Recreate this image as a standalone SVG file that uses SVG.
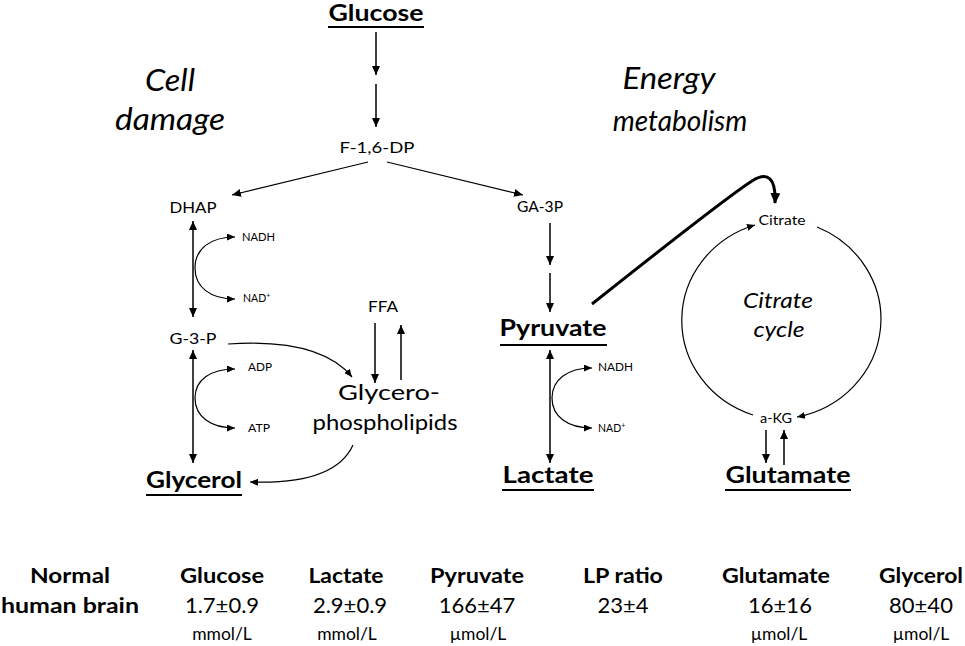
<svg xmlns="http://www.w3.org/2000/svg" width="965" height="646" viewBox="0 0 965 646">
<defs>
<style>
text{font-family:Lato,"Open Sans","Liberation Sans",sans-serif;fill:#000}
.b{font-weight:bold}
.i{font-style:italic}
.c{text-anchor:middle}
.ln{fill:none;stroke:#000;stroke-width:1.5}
.thin{fill:none;stroke:#000;stroke-width:1.2}
.thick{fill:none;stroke:#000;stroke-width:3}
.ul{stroke:#000;stroke-width:2}
.big{font-size:22px}
.mid{font-size:16px}
.sm{font-size:10.5px}
.hd{font-size:21px;font-weight:bold}
.val{font-size:22px}
.unit{font-size:17.5px}
</style>
<marker id="a" markerUnits="userSpaceOnUse" markerWidth="10" markerHeight="8" refX="9" refY="4" orient="auto-start-reverse"><path d="M0,0 L9,4 L0,8 z"/></marker>
<marker id="s" markerUnits="userSpaceOnUse" markerWidth="9" markerHeight="7" refX="8" refY="3.5" orient="auto-start-reverse"><path d="M0,0 L8,3.5 L0,7 z"/></marker>
<marker id="t" markerUnits="userSpaceOnUse" markerWidth="12" markerHeight="10" refX="10" refY="5" orient="auto"><path d="M0,0 L11,5 L0,10 z"/></marker>
</defs>
<rect width="965" height="646" fill="#fff"/>

<g id="connectors">
<path class="ln" d="M376,32 L376,75" marker-end="url(#a)"/>
<path class="ln" d="M376,84 L376,127" marker-end="url(#a)"/>
<path class="thin" d="M368,162 L232,195" marker-end="url(#a)"/>
<path class="thin" d="M387,162 L523,195" marker-end="url(#a)"/>
<path class="ln" d="M193,221 L193,317" marker-start="url(#a)" marker-end="url(#a)"/>
<path class="thin" d="M195,268 C195,249 210,237 235,237" marker-end="url(#s)"/>
<path class="thin" d="M195,268 C195,287 210,299 235,299" marker-end="url(#s)"/>
<path class="ln" d="M193,350 L193,463" marker-start="url(#a)" marker-end="url(#a)"/>
<path class="thin" d="M195,398 C195,380 210,369 235,369" marker-end="url(#s)"/>
<path class="thin" d="M195,398 C195,416 210,428 235,428" marker-end="url(#s)"/>
<path class="thin" d="M228,344 Q320,338 352,377" marker-end="url(#s)"/>
<path class="ln" d="M375,323 L375,383" marker-end="url(#a)"/>
<path class="ln" d="M401,380 L401,325" marker-end="url(#a)"/>
<path class="thin" d="M353,445 Q335,485 250,482" marker-end="url(#s)"/>
<path class="ln" d="M550,223 L550,265" marker-end="url(#a)"/>
<path class="ln" d="M550,273 L550,312" marker-end="url(#a)"/>
<path class="ln" d="M550,350 L550,463" marker-start="url(#a)" marker-end="url(#a)"/>
<path class="thin" d="M552,398 C552,380 567,368 592,368" marker-end="url(#s)"/>
<path class="thin" d="M552,398 C552,416 567,428 592,428" marker-end="url(#s)"/>
<path class="thick" d="M592,304 C660,250 730,195 752,181 C768,171 776,178 775,203" marker-end="url(#t)"/>
<path class="thin" d="M817,227 A105,100 0 0,1 797,417" marker-end="url(#s)"/>
<path class="thin" d="M753,415 A105,100 0 0,1 755,225" marker-end="url(#s)"/>
<path class="ln" d="M766,430 L766,463" marker-end="url(#a)"/>
<path class="ln" d="M784,465 L784,430" marker-end="url(#a)"/>
</g>

<g id="label-cell-damage">
<text class="i c" style="font-size:31px" x="170" y="91" textLength="50" lengthAdjust="spacingAndGlyphs">Cell</text>
<text class="i c" style="font-size:31px" x="170" y="130" textLength="110" lengthAdjust="spacingAndGlyphs">damage</text>
</g>
<g id="label-energy">
<text class="i c" style="font-size:30px" x="669" y="89" textLength="93" lengthAdjust="spacingAndGlyphs">Energy</text>
<text class="i c" style="font-size:28px" x="680" y="131">metabolism</text>
</g>

<g id="glucose">
<text class="b c big" x="376" y="21" textLength="95" lengthAdjust="spacingAndGlyphs">Glucose</text>
<line class="ul" x1="328" y1="27" x2="424" y2="27"/>
</g>
<g id="f16dp"><text class="c" style="font-size:15px" x="377" y="153" textLength="75" lengthAdjust="spacingAndGlyphs">F-1,6-DP</text></g>
<g id="dhap"><text class="c mid" x="193" y="213" textLength="47" lengthAdjust="spacingAndGlyphs">DHAP</text></g>
<g id="ga3p"><text class="c mid" x="540" y="212" textLength="46" lengthAdjust="spacingAndGlyphs">GA-3P</text></g>
<g id="g3p"><text class="c mid" x="193" y="344" textLength="47" lengthAdjust="spacingAndGlyphs">G-3-P</text></g>
<g id="nadh1"><text class="sm" x="242" y="241" textLength="33" lengthAdjust="spacingAndGlyphs">NADH</text></g>
<g id="nad1"><text class="sm" x="243" y="302">NAD<tspan font-size="7" dy="-4">+</tspan></text></g>
<g id="adp"><text class="sm" x="248" y="371" textLength="24" lengthAdjust="spacingAndGlyphs">ADP</text></g>
<g id="atp"><text class="sm" x="248" y="432" textLength="22" lengthAdjust="spacingAndGlyphs">ATP</text></g>
<g id="ffa"><text class="c mid" x="383" y="312" textLength="30" lengthAdjust="spacingAndGlyphs">FFA</text></g>
<g id="glycerophospholipids">
<text class="c" style="font-size:22px" x="389" y="400" textLength="102" lengthAdjust="spacingAndGlyphs">Glycero-</text>
<text class="c" style="font-size:22px" x="385" y="430" textLength="145" lengthAdjust="spacingAndGlyphs">phospholipids</text>
</g>
<g id="glycerol">
<text class="b c big" x="194" y="488" textLength="96" lengthAdjust="spacingAndGlyphs">Glycerol</text>
<line class="ul" x1="146" y1="495" x2="242" y2="495"/>
</g>
<g id="pyruvate">
<text class="b c big" x="553" y="336" textLength="107" lengthAdjust="spacingAndGlyphs">Pyruvate</text>
<line class="ul" x1="500" y1="345" x2="607" y2="345"/>
</g>
<g id="nadh2"><text class="sm" x="598" y="371" textLength="35" lengthAdjust="spacingAndGlyphs">NADH</text></g>
<g id="nad2"><text class="sm" x="598" y="432">NAD<tspan font-size="7" dy="-4">+</tspan></text></g>
<g id="lactate">
<text class="b c big" x="548" y="483" textLength="91" lengthAdjust="spacingAndGlyphs">Lactate</text>
<line class="ul" x1="502" y1="490" x2="594" y2="490"/>
</g>
<g id="citrate"><text class="c" style="font-size:13px" x="782" y="225" textLength="47" lengthAdjust="spacingAndGlyphs">Citrate</text></g>
<g id="citrate-cycle">
<text class="i c" style="font-size:22px" x="778" y="308" textLength="70" lengthAdjust="spacingAndGlyphs">Citrate</text>
<text class="i c" style="font-size:22px" x="779" y="337" textLength="51" lengthAdjust="spacingAndGlyphs">cycle</text>
</g>
<g id="akg"><text class="c" style="font-size:14px" x="776" y="423" textLength="32" lengthAdjust="spacingAndGlyphs">a-KG</text></g>
<g id="glutamate">
<text class="b c big" x="788" y="483" textLength="125" lengthAdjust="spacingAndGlyphs">Glutamate</text>
<line class="ul" x1="725" y1="490" x2="851" y2="490"/>
</g>

<g id="table">
<text class="hd c" x="70" y="583" textLength="80" lengthAdjust="spacingAndGlyphs">Normal</text>
<text class="hd c" x="70" y="613" textLength="138" lengthAdjust="spacingAndGlyphs">human brain</text>
<text class="hd c" x="222" y="583" textLength="84" lengthAdjust="spacingAndGlyphs">Glucose</text>
<text class="val c" x="222" y="613">1.7±0.9</text>
<text class="unit c" x="222" y="640">mmol/L</text>
<text class="hd c" x="346" y="583" textLength="75" lengthAdjust="spacingAndGlyphs">Lactate</text>
<text class="val c" x="350" y="613">2.9±0.9</text>
<text class="unit c" x="347" y="640">mmol/L</text>
<text class="hd c" x="477" y="583" textLength="94" lengthAdjust="spacingAndGlyphs">Pyruvate</text>
<text class="val c" x="477" y="613">166±47</text>
<text class="unit c" x="478" y="640">µmol/L</text>
<text class="hd c" x="623" y="583" textLength="80" lengthAdjust="spacingAndGlyphs">LP ratio</text>
<text class="val c" x="623" y="613">23±4</text>
<text class="hd c" x="776" y="583" textLength="108" lengthAdjust="spacingAndGlyphs">Glutamate</text>
<text class="val c" x="780" y="613">16±16</text>
<text class="unit c" x="779" y="640">µmol/L</text>
<text class="hd c" x="921" y="583" textLength="84" lengthAdjust="spacingAndGlyphs">Glycerol</text>
<text class="val c" x="921" y="613">80±40</text>
<text class="unit c" x="921" y="640">µmol/L</text>
</g>
</svg>
